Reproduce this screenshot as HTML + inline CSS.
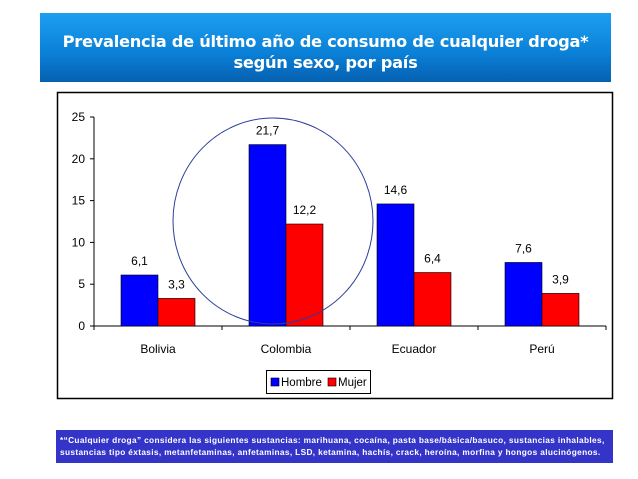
<!DOCTYPE html>
<html><head><meta charset="utf-8"><style>
body{margin:0;width:638px;height:479px;background:#fff;overflow:hidden;font-family:"Liberation Sans",sans-serif;position:relative}
#title{position:absolute;left:40px;top:13px;width:571px;height:69px;background:linear-gradient(#1c9ff0,#0a7fd6 60%,#0660b0);color:#fff;font-weight:bold;font-size:16.3px;text-align:center;line-height:21px;padding-top:18px;box-sizing:border-box;font-family:"DejaVu Sans",sans-serif;letter-spacing:-0.3px}
#note{position:absolute;left:56px;top:430px;width:557px;height:33px;background:#3434c8;color:#fff;font-size:8.3px;font-weight:bold;line-height:12px;padding:4px 4px;box-sizing:border-box;white-space:nowrap;letter-spacing:0.35px;overflow:hidden}
</style></head><body>
<div id="title">Prevalencia de último año de consumo de cualquier droga*<br>según sexo, por país</div>
<svg id="chart" width="638" height="479" style="position:absolute;left:0;top:0"></svg>
<div id="note">*“Cualquier droga” considera las siguientes sustancias: marihuana, cocaína, pasta base/básica/basuco, sustancias inhalables,<br>sustancias tipo éxtasis, metanfetaminas, anfetaminas, LSD, ketamina, hachís, crack, heroína, morfina y hongos alucinógenos.</div>
<script>
const categories=["Bolivia","Colombia","Ecuador","Perú"];
const hombre=[6.1,21.7,14.6,7.6];
const mujer=[3.3,12.2,6.4,3.9];
const hombreLabels=["6,1","21,7","14,6","7,6"];
const mujerLabels=["3,3","12,2","6,4","3,9"];
const yTicks=[0,5,10,15,20,25];
const NS="http://www.w3.org/2000/svg";
const svg=document.getElementById('chart');
function mk(t,a,txt){const e=document.createElementNS(NS,t);for(const k in a)e.setAttribute(k,a[k]);if(txt!==undefined)e.textContent=txt;svg.appendChild(e);return e;}
const x0=94,x1=606,yb=326,yt=117,ymax=25;
const cw=(x1-x0)/categories.length,bw=37;
const y=v=>yb-(v/ymax)*(yb-yt);
let e;
e=mk('rect',{x:57.5,y:92.5,width:555,height:306,fill:'#fff',stroke:'#000','stroke-width':1.5});


e=mk('line',{x1:x0,y1:yt,x2:x0,y2:yb,stroke:'#000'});


e=mk('line',{x1:x0,y1:yb,x2:x1,y2:yb,stroke:'#000'});


yTicks.forEach(t=>{
  mk('line',{x1:x0-4,y1:y(t),x2:x0,y2:y(t),stroke:'#000'});
  e=mk('text',{x:x0-9,y:y(t)+4,'text-anchor':'end','font-size':12,fill:'#000'},t);
  
  
});
for(let i=0;i<=categories.length;i++)mk('line',{x1:x0+i*cw,y1:yb,x2:x0+i*cw,y2:yb+4,stroke:'#000'});
categories.forEach((c,i)=>{
  const cx=x0+cw*(i+0.5);
  e=mk('rect',{x:cx-bw,y:y(hombre[i]),width:bw,height:yb-y(hombre[i]),fill:'#0000ff',stroke:'#000','stroke-width':0.6});
  
  
  e=mk('rect',{x:cx,y:y(mujer[i]),width:bw,height:yb-y(mujer[i]),fill:'#ff0000',stroke:'#000','stroke-width':0.6});
  
  
  e=mk('text',{x:cx-bw/2,y:y(hombre[i])-10,'text-anchor':'middle','font-size':12},hombreLabels[i]);
  
  
  e=mk('text',{x:cx+bw/2,y:y(mujer[i])-10,'text-anchor':'middle','font-size':12},mujerLabels[i]);
  
  
  e=mk('text',{x:cx,y:353,'text-anchor':'middle','font-size':12},c);
  
  
});
e=mk('ellipse',{cx:273,cy:221,rx:100,ry:103,fill:'none',stroke:'#2a3f9a','stroke-width':1});


e=mk('rect',{x:266.5,y:370.5,width:104,height:23,fill:'#fff',stroke:'#000'});


mk('rect',{x:271,y:378,width:8,height:8,fill:'#0000ff',stroke:'#000','stroke-width':0.6});
e=mk('text',{x:281,y:386,'font-size':11.5},'Hombre');


mk('rect',{x:328,y:378,width:8,height:8,fill:'#ff0000',stroke:'#000','stroke-width':0.6});
e=mk('text',{x:338,y:386,'font-size':11.5},'Mujer');


</script>
</body></html>
